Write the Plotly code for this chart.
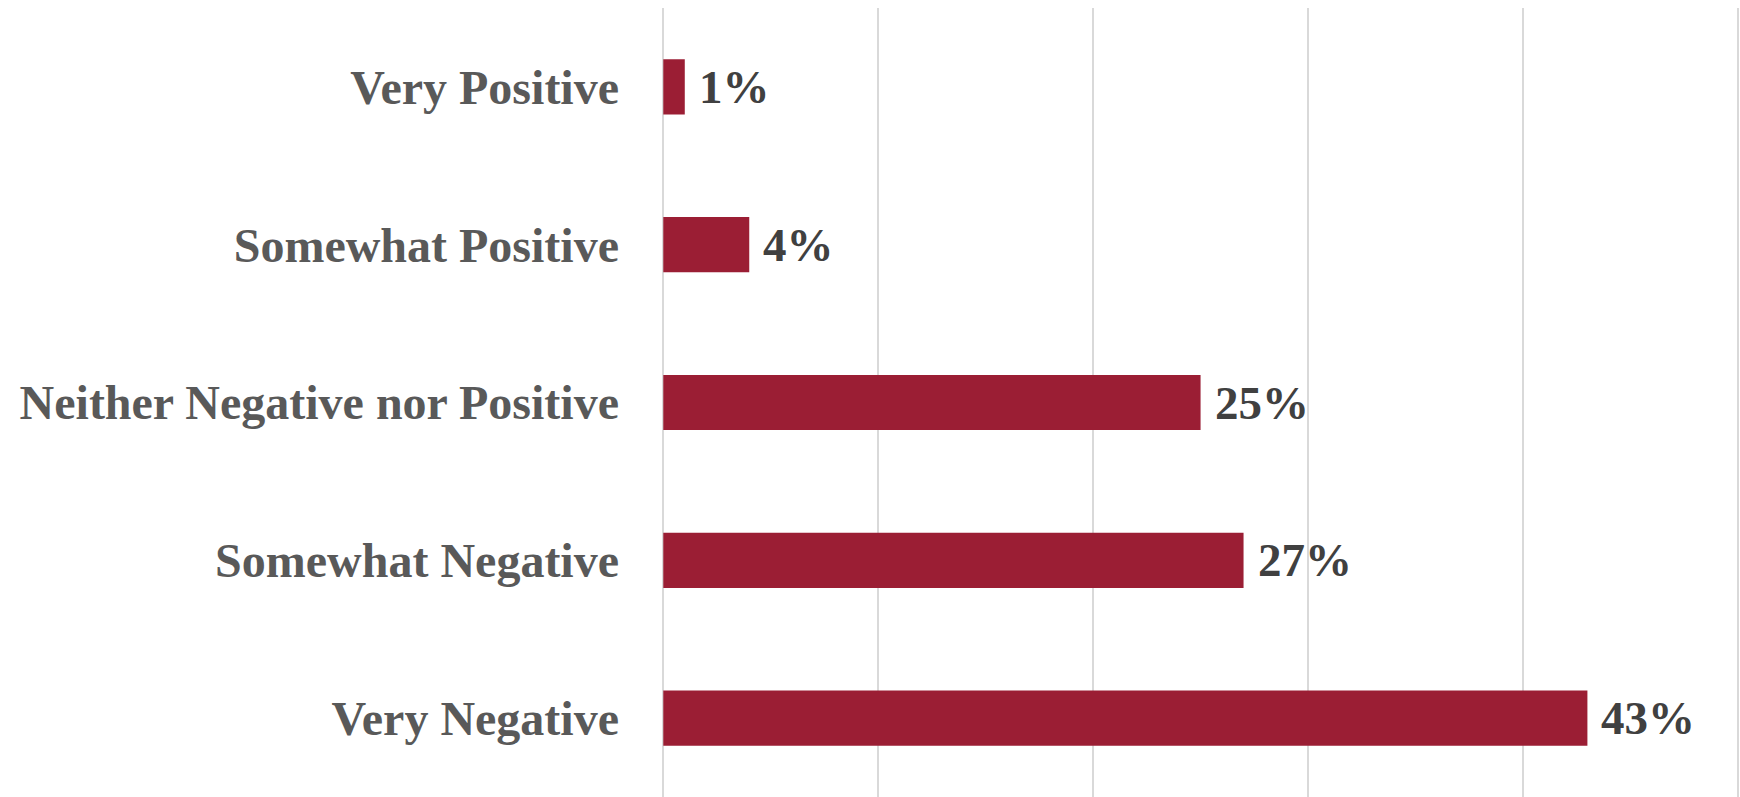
import plotly.graph_objects as go

# Survey response categories, listed top to bottom
categories = [
    "Very Positive",
    "Somewhat Positive",
    "Neither Negative nor Positive",
    "Somewhat Negative",
    "Very Negative",
]
# Share of respondents, in percent
values = [1, 4, 25, 27, 43]

# x-axis gridline positions (fractions)
grid_ticks = [0, 0.1, 0.2, 0.3, 0.4, 0.5]

BAR_COLOR = "#9B1E34"
LABEL_COLOR = "#595959"
VALUE_COLOR = "#404040"
GRID_COLOR = "#D9D9D9"
FONT = "Liberation Serif, Times New Roman, serif"

fig = go.Figure(
    go.Bar(
        x=[v / 100 for v in values],
        y=categories,
        orientation="h",
        width=0.35,
        marker=dict(color=BAR_COLOR, line=dict(width=0)),
        hoverinfo="skip",
    )
)

# Value labels just past the end of each bar
for cat, v in zip(categories, values):
    fig.add_annotation(
        x=v / 100,
        y=cat,
        text=f"<b>{v}%</b>",
        showarrow=False,
        xanchor="left",
        yanchor="middle",
        xshift=12,
        font=dict(family=FONT, size=47, color=VALUE_COLOR),
    )

fig.update_layout(
    width=1740,
    height=797,
    margin=dict(l=662, r=0, t=8, b=0),
    paper_bgcolor="white",
    plot_bgcolor="white",
    showlegend=False,
    font=dict(family=FONT),
    xaxis=dict(
        range=[-0.0006, 0.501],
        tickvals=grid_ticks,
        showticklabels=False,
        showgrid=True,
        gridcolor=GRID_COLOR,
        gridwidth=2,
        zeroline=True,
        zerolinecolor=GRID_COLOR,
        zerolinewidth=2,
        showline=False,
        fixedrange=True,
    ),
    yaxis=dict(
        categoryorder="array",
        categoryarray=categories,
        range=[4.5, -0.5],
        showgrid=False,
        zeroline=False,
        showline=False,
        ticks="",
        ticklabelstandoff=42,
        tickfont=dict(family=FONT, size=48, color=LABEL_COLOR, weight="bold"),
        fixedrange=True,
    ),
)

fig.write_html("out.html", config={"displayModeBar": False})
